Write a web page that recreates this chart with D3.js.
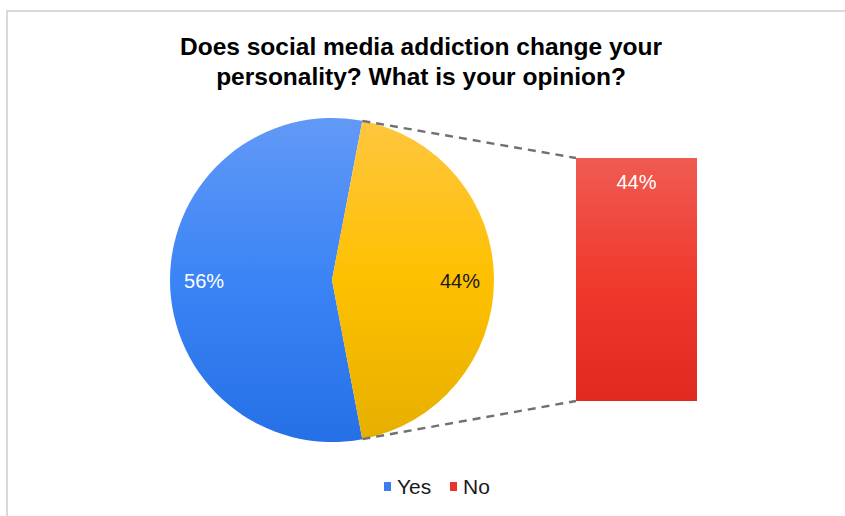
<!DOCTYPE html>
<html>
<head>
<meta charset="utf-8">
<script src="https://cdn.jsdelivr.net/npm/d3@7"></script>
<style>
  html, body { margin: 0; padding: 0; background: #fff; }
  svg { display: block; font-family: "Liberation Sans", Arial, sans-serif; }
</style>
</head>
<body>
<svg id="chart" width="845" height="516"></svg>
<script>
// Survey answers
const categories = ["Yes", "No"];
const shares = [56, 44];
const titleLines = ["Does social media addiction change your", "personality? What is your opinion?"];
// Breakout bar: the "No" slice expanded into a stacked column
const barCategories = ["No"];
const barShares = [44];

const W = 845, H = 516;
const svg = d3.select("#chart");
const defs = svg.append("defs");

function vGrad(id, stops, y1, y2) {
  const g = defs.append("linearGradient").attr("id", id)
    .attr("gradientUnits", "userSpaceOnUse")
    .attr("x1", 0).attr("x2", 0).attr("y1", y1).attr("y2", y2);
  stops.forEach(([o, c]) => g.append("stop").attr("offset", o).attr("stop-color", c));
}

// chart frame
svg.append("path")
  .attr("d", `M7,${H} L7,11 L${W},11`)
  .attr("fill", "none").attr("stroke", "#d9d9d9").attr("stroke-width", 2);

// title
svg.append("g").selectAll("text").data(titleLines).join("text")
  .attr("x", 421).attr("y", (d, i) => 55 + i * 30)
  .attr("text-anchor", "middle")
  .attr("font-weight", "bold").attr("font-size", 24.5).attr("fill", "#000")
  .text(d => d);

// pie
const cx = 332, cy = 280, r = 162;
// pie gradients are defined in the pie group's local coordinates
vGrad("gYes", [["0%", "#6299f6"], ["50%", "#3b84f6"], ["100%", "#2570e6"]], -r, r);
vGrad("gNo", [["0%", "#ffc640"], ["50%", "#fec000"], ["100%", "#e6af00"]], -r, r);
vGrad("gBar", [["0%", "#ef5b52"], ["50%", "#f03a2e"], ["100%", "#e0291f"]], 158, 401);

const total = d3.sum(shares);
const noAngle = shares[1] / total * 2 * Math.PI;
// "No" slice centred on the right side (pi/2 in d3's clockwise-from-top convention)
const pie = d3.pie().sort(null).value(d => d)
  .startAngle(Math.PI / 2 + noAngle / 2)
  .endAngle(Math.PI / 2 + noAngle / 2 + 2 * Math.PI);
const arcs = pie(shares);
const arc = d3.arc().innerRadius(0).outerRadius(r);
const fills = ["url(#gYes)", "url(#gNo)"];

const pieG = svg.append("g").attr("transform", `translate(${cx},${cy})`);
pieG.selectAll("path").data(arcs).join("path")
  .attr("d", arc).attr("fill", (d, i) => fills[i]);

const labelArc = d3.arc().innerRadius(r * 0.79).outerRadius(r * 0.79);
const labelColors = ["#ffffff", "#1a1a1a"];
pieG.selectAll("text").data(arcs).join("text")
  .attr("x", d => labelArc.centroid(d)[0])
  .attr("y", d => labelArc.centroid(d)[1] + 8)
  .attr("text-anchor", "middle").attr("font-size", 20)
  .attr("fill", (d, i) => labelColors[i])
  .text(d => d.value + "%");

// breakout bar
const barX = 576, barW = 121, barTop = 158, barBottom = 401;
const y = d3.scaleLinear().domain([0, d3.sum(barShares)]).range([barBottom, barTop]);
const stack = d3.stack().keys(barCategories)([Object.fromEntries(barCategories.map((k, i) => [k, barShares[i]]))]);
svg.append("g").selectAll("rect").data(stack).join("rect")
  .attr("x", barX).attr("width", barW)
  .attr("y", d => y(d[0][1])).attr("height", d => y(d[0][0]) - y(d[0][1]))
  .attr("fill", "url(#gBar)");
svg.append("g").selectAll("text").data(stack).join("text")
  .attr("x", barX + barW / 2).attr("y", d => y(d[0][1]) + 31)
  .attr("text-anchor", "middle").attr("font-size", 20).attr("fill", "#fff")
  .text((d, i) => barShares[i] + "%");

// connector lines from the slice edges to the bar corners
const noArc = arcs[1];
const edge = a => [cx + r * Math.sin(a), cy - r * Math.cos(a)];
const p1 = edge(noArc.startAngle), p2 = edge(noArc.endAngle);
const conn = [[p1, [barX, barTop]], [p2, [barX, barBottom]]];
svg.append("g").selectAll("line").data(conn).join("line")
  .attr("x1", d => d[0][0]).attr("y1", d => d[0][1])
  .attr("x2", d => d[1][0]).attr("y2", d => d[1][1])
  .attr("stroke", "#707070").attr("stroke-width", 2.4)
  .attr("stroke-dasharray", "8,6");

// legend
const legendColors = ["#3a7ff0", "#e8352b"];
const legend = svg.append("g");
const legendX = [384, 450];
categories.forEach((c, i) => {
  legend.append("rect").attr("x", legendX[i]).attr("y", 482)
    .attr("width", 7).attr("height", 9).attr("fill", legendColors[i]);
  legend.append("text").attr("x", legendX[i] + 13).attr("y", 494)
    .attr("font-size", 21).attr("fill", "#1a1a1a").text(c);
});
</script>
</body>
</html>
